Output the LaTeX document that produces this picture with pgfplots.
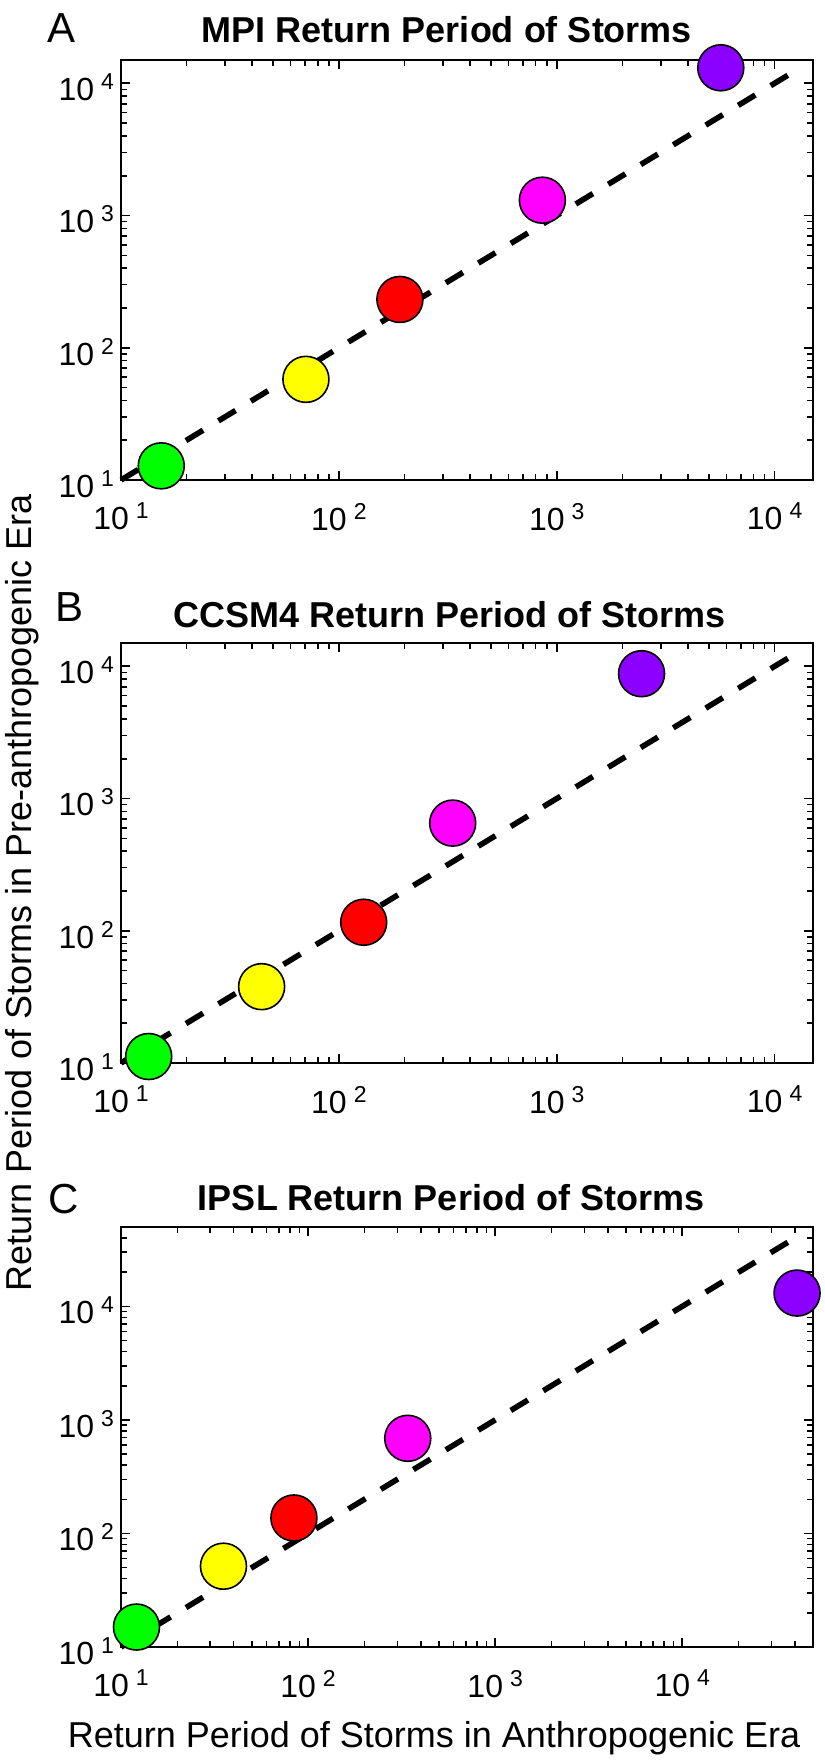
\documentclass[border=0pt]{standalone}
\usepackage{pgfplots}
\pgfplotsset{compat=1.18}
\usepackage{fontspec}
\setmainfont{Liberation Sans}

\newcommand{\tl}[1]{10\hspace{3.5pt}\raisebox{5.5pt}{\fontsize{11.5}{11.5}\selectfont #1}}

\definecolor{cgreen}{RGB}{0,255,0}
\definecolor{cyellow}{RGB}{255,255,0}
\definecolor{cred}{RGB}{255,0,0}
\definecolor{cmag}{RGB}{255,0,255}
\definecolor{cpurp}{RGB}{140,0,255}

\pgfplotsset{
    scale only axis, width=346pt, height=210pt,
    clip=false,
    axis line style={line width=1pt},
    every tick/.style={black, line width=0.8pt},
    major tick length=4.5pt, minor tick length=3pt,
    tick align=inside,
    mymk/.style={only marks, mark=*, mark size=11.5pt,
      mark options={fill=#1, draw=black, line width=0.8pt}},
    mydl/.style={black, line width=2.8pt, dash pattern=on 10pt off 9pt, forget plot},
}

\begin{document}
\begin{tikzpicture}
\useasboundingbox (0,0) rectangle (412pt,-880pt);

% Panel A
\begin{loglogaxis}[anchor=north west, at={(60.5pt,-30pt)}, xmin=10, xmax=15000, ymin=10, ymax=15000,
  xtick={10,100,1000,10000}, ytick={10,100,1000,10000},
  xticklabels={\tl{1},\tl{2},\tl{3},\tl{4}},
  yticklabels={\tl{1},\tl{2},\tl{3},\tl{4}},
  tick label style={font=\fontsize{16}{16}\selectfont},
  xticklabel style={yshift=-8pt}, yticklabel style={yshift=-2pt},
  minor xtick={20,30,40,50,60,70,80,90,200,300,400,500,600,700,800,900,2000,3000,4000,5000,6000,7000,8000,9000},
  minor ytick={20,30,40,50,60,70,80,90,200,300,400,500,600,700,800,900,2000,3000,4000,5000,6000,7000,8000,9000}]
\addplot[mydl] coordinates {(10,10) (13500,13500)};
\addplot[mymk=cgreen] coordinates {(15.3,12.8)};
\addplot[mymk=cyellow] coordinates {(70.6,57.7)};
\addplot[mymk=cred] coordinates {(190.6,232)};
\addplot[mymk=cmag] coordinates {(859,1306)};
\addplot[mymk=cpurp] coordinates {(5660,13100)};
\end{loglogaxis}

% Panel B
\begin{loglogaxis}[anchor=north west, at={(60.5pt,-321.5pt)}, xmin=10, xmax=15000, ymin=10, ymax=15000,
  xtick={10,100,1000,10000}, ytick={10,100,1000,10000},
  xticklabels={\tl{1},\tl{2},\tl{3},\tl{4}},
  yticklabels={\tl{1},\tl{2},\tl{3},\tl{4}},
  tick label style={font=\fontsize{16}{16}\selectfont},
  xticklabel style={yshift=-8pt}, yticklabel style={yshift=-2pt},
  minor xtick={20,30,40,50,60,70,80,90,200,300,400,500,600,700,800,900,2000,3000,4000,5000,6000,7000,8000,9000},
  minor ytick={20,30,40,50,60,70,80,90,200,300,400,500,600,700,800,900,2000,3000,4000,5000,6000,7000,8000,9000}]
\addplot[mydl] coordinates {(10,10) (13500,13500)};
\addplot[mymk=cgreen] coordinates {(13.4,11.2)};
\addplot[mymk=cyellow] coordinates {(44.2,37.8)};
\addplot[mymk=cred] coordinates {(130,116)};
\addplot[mymk=cmag] coordinates {(333,652)};
\addplot[mymk=cpurp] coordinates {(2450,8790)};
\end{loglogaxis}

% Panel C
\begin{loglogaxis}[anchor=north west, at={(60.5pt,-613.5pt)}, xmin=10, xmax=50000, ymin=10, ymax=50000,
  xtick={10,100,1000,10000}, ytick={10,100,1000,10000},
  xticklabels={\tl{1},\tl{2},\tl{3},\tl{4}},
  yticklabels={\tl{1},\tl{2},\tl{3},\tl{4}},
  tick label style={font=\fontsize{16}{16}\selectfont},
  xticklabel style={yshift=-8pt}, yticklabel style={yshift=-2pt},
  minor xtick={20,30,40,50,60,70,80,90,200,300,400,500,600,700,800,900,2000,3000,4000,5000,6000,7000,8000,9000,20000,30000,40000},
  minor ytick={20,30,40,50,60,70,80,90,200,300,400,500,600,700,800,900,2000,3000,4000,5000,6000,7000,8000,9000,20000,30000,40000}]
\addplot[mydl] coordinates {(10,10) (44000,44000)};
\addplot[mymk=cgreen] coordinates {(12.1,15.0)};
\addplot[mymk=cyellow] coordinates {(35.3,51.5)};
\addplot[mymk=cred] coordinates {(84,137)};
\addplot[mymk=cmag] coordinates {(341,689)};
\addplot[mymk=cpurp] coordinates {(41100,13100)};
\end{loglogaxis}

% titles
\node[anchor=base, inner sep=0, font=\fontsize{18}{18}\selectfont\bfseries] at (223.5pt,-21.5pt) {MPI Return Period of Storms};
\node[anchor=base, inner sep=0, font=\fontsize{18}{18}\selectfont\bfseries] at (225pt,-313.5pt) {CCSM4 Return Period of Storms};
\node[anchor=base, inner sep=0, font=\fontsize{18}{18}\selectfont\bfseries] at (225.5pt,-605pt) {IPSL Return Period of Storms};

% letters
\node[anchor=base west, inner sep=0, font=\fontsize{21}{21}\selectfont] at (23.5pt,-21.5pt) {A};
\node[anchor=base west, inner sep=0, font=\fontsize{21}{21}\selectfont] at (27.3pt,-310.5pt) {B};
\node[anchor=base west, inner sep=0, font=\fontsize{21}{21}\selectfont] at (24pt,-606.5pt) {C};

% axis labels
\node[anchor=base, inner sep=0, rotate=90, font=\fontsize{18}{18}\selectfont] at (16pt,-446.5pt) {Return Period of Storms in Pre-anthropogenic Era};
\node[anchor=base, inner sep=0, font=\fontsize{18}{18}\selectfont] at (217pt,-873.5pt) {Return Period of Storms in Anthropogenic Era};
\end{tikzpicture}
\end{document}
